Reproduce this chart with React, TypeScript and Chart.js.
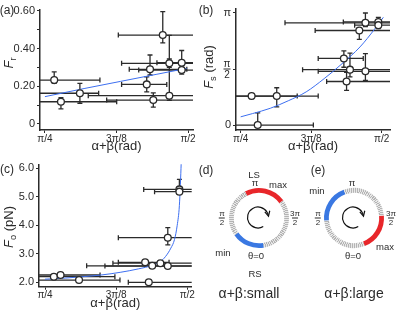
import React, { useEffect, useRef } from 'react';
import { Chart, registerables } from 'chart.js';
Chart.register(...registerables);

const FONT = "'Liberation Sans', Arial, Helvetica, sans-serif";
const INK = '#2b2b2b';
const FIT_BLUE = '#3d6ff0';
const RED = '#e8262a';
const BLUE = '#3a78e2';
Chart.defaults.font.family = FONT;
Chart.defaults.color = INK;

const PI = Math.PI;
// shared x-axis ticks
const xTickValues = [PI / 4, (3 * PI) / 8, PI / 2];
const xTickLabels = ['π/4', '3π/8', 'π/2'];

// ---- Panel (a): F_r ----
const aX = [0.836, 0.873, 0.977, 1.344, 1.362, 1.380, 1.432, 1.468, 1.468, 1.536, 1.536];
const aY = [0.233, 0.118, 0.163, 0.210, 0.290, 0.127, 0.472, 0.322, 0.150, 0.325, 0.286];
const aXLo = [0.70, 0.70, 0.70, 1.206, 1.248, 1.124, 1.188, 1.206, 1.023, 1.40, 1.30];
const aXHi = [1.087, 1.179, 1.08, 1.454, 1.564, 1.70, 1.70, 1.70, 1.70, 1.70, 1.70];
const aYLo = [0.215, 0.080, 0.110, 0.170, 0.260, 0.089, 0.430, 0.300, 0.125, 0.300, 0.265];
const aYHi = [0.277, 0.140, 0.216, 0.250, 0.366, 0.165, 0.596, 0.345, 0.470, 0.390, 0.310];
const aFitX = [0.785, 1.0, 1.2, 1.4, 1.563];
const aFitY = [0.145, 0.188, 0.226, 0.264, 0.295];
const aYTicks = [0, 0.1, 0.2, 0.3, 0.4, 0.5, 0.6];
const aYTickLabels = ['0', '', '0.20', '', '0.40', '', '0.60'];

// ---- Panel (b): F_s ----
const bX = [0.846, 0.986, 0.880, 1.360, 1.394, 1.480, 1.375, 1.446, 1.480, 1.552, 1.552];
const bY = [0.812, 0.812, 0.000, 1.866, 1.553, 1.506, 1.220, 2.650, 2.864, 2.890, 2.800];
const bXLo = [0.70, 0.70, 0.70, 1.217, 1.13, 1.217, 1.264, 1.20, 1.032, 1.357, 1.42];
const bXHi = [1.217, 1.10, 1.19, 1.468, 1.70, 1.70, 1.70, 1.70, 1.70, 1.70, 1.70];
const bYLo = [0.74, 0.507, -0.05, 1.62, 1.35, 1.25, 0.97, 2.40, 2.76, 2.82, 2.70];
const bYHi = [0.88, 1.045, 0.34, 2.08, 2.016, 2.00, 1.48, 2.72, 3.14, 3.02, 2.88];
const bFitX = [0.785, 0.85, 0.95, 1.05, 1.15, 1.25, 1.35, 1.45, 1.53, 1.58];
const bFitY = [0.23, 0.32, 0.47, 0.68, 0.93, 1.30, 1.72, 2.19, 2.68, 3.02];
const bYTicks = [0, PI / 2, PI];
const bYTickLabels = ['0', '', 'π'];

// ---- Panel (c): F_o ----
const cX = [0.834, 0.871, 0.973, 1.358, 1.338, 1.377, 1.422, 1.463, 1.463, 1.527, 1.527];
const cY = [2.196, 2.256, 2.080, 2.000, 2.700, 2.580, 2.670, 2.570, 3.565, 5.260, 5.180];
const cXLo = [0.70, 0.70, 0.70, 1.245, 1.19, 1.015, 1.16, 1.116, 1.19, 1.33, 1.39];
const cXHi = [1.171, 1.089, 1.199, 1.70, 1.47, 1.70, 1.70, 1.70, 1.70, 1.70, 1.70];
const cYLo = [2.15, 2.21, 2.04, 1.96, 2.66, 2.54, 2.63, 2.53, 3.31, 5.10, 5.10];
const cYHi = [2.24, 2.30, 2.12, 2.04, 2.74, 2.62, 2.71, 2.61, 3.92, 5.61, 5.30];
const cFitX = [0.785, 0.9, 1.0, 1.1, 1.2, 1.3, 1.38, 1.42, 1.45, 1.48, 1.5, 1.515, 1.527, 1.536, 1.542];
const cFitY = [2.11, 2.15, 2.2, 2.26, 2.35, 2.47, 2.6, 2.72, 2.9, 3.2, 3.5, 4.0, 4.7, 6.0, 7.2];
const cYTicks = [2, 3, 4, 5, 6];
const cYTickLabels = ['2.0', '3.0', '4.0', '5.0', '6.0'];

// ---- Rings (d), (e): arc spans in degrees, clockwise from start ----
const ringLabels = ['max side', 'other', 'min side', 'other'];
const dArcs = [82, 117, 64, 97];
const dRotation = -28;
const eArcs = [74, 106, 75, 105];
const eRotation = 85;

function pts(xs, ys, xl, xh, yl, yh) {
  return xs.map((x, i) => ({ x, y: ys[i], xMin: xl[i], xMax: xh[i], yMin: yl[i], yMax: yh[i] }));
}
function line(xs, ys) {
  return xs.map((x, i) => ({ x, y: ys[i] }));
}

const errorBarPlugin = {
  id: 'errorBars',
  beforeDatasetsDraw(chart) {
    const { ctx, chartArea: a } = chart;
    const xs = chart.scales.x;
    const ys = chart.scales.y;
    ctx.save();
    ctx.beginPath();
    ctx.rect(a.left, a.top - 1, a.right - a.left, a.bottom - a.top + 1);
    ctx.clip();
    ctx.strokeStyle = INK;
    ctx.lineWidth = 1.3;
    const data = chart.data.datasets[0].data;
    data.forEach((p) => {
      const px = xs.getPixelForValue(p.x);
      const py = ys.getPixelForValue(p.y);
      const x1 = xs.getPixelForValue(p.xMin);
      const x2 = xs.getPixelForValue(p.xMax);
      const y1 = ys.getPixelForValue(p.yMin);
      const y2 = ys.getPixelForValue(p.yMax);
      ctx.beginPath();
      ctx.moveTo(x1, py); ctx.lineTo(x2, py);
      ctx.moveTo(x1, py - 2.5); ctx.lineTo(x1, py + 2.5);
      ctx.moveTo(x2, py - 2.5); ctx.lineTo(x2, py + 2.5);
      ctx.moveTo(px, y1); ctx.lineTo(px, y2);
      ctx.moveTo(px - 2.5, y1); ctx.lineTo(px + 2.5, y1);
      ctx.moveTo(px - 2.5, y2); ctx.lineTo(px + 2.5, y2);
      ctx.stroke();
    });
    ctx.restore();
  },
};

const bFracPlugin = {
  id: 'bFrac',
  afterDraw(chart) {
    const { ctx, chartArea: a } = chart;
    const py = chart.scales.y.getPixelForValue(PI / 2);
    const fx = a.left - 9;
    ctx.save();
    ctx.fillStyle = INK;
    ctx.font = `10px ${FONT}`;
    ctx.textAlign = 'center';
    ctx.textBaseline = 'middle';
    ctx.fillText('π', fx, py - 5);
    ctx.fillRect(fx - 3.5, py - 0.5, 7, 1);
    ctx.fillText('2', fx, py + 6);
    ctx.restore();
  },
};

function xScale(min, max, axisH) {
  return {
    type: 'linear',
    position: 'bottom',
    min,
    max,
    afterBuildTicks: (s) => { s.ticks = xTickValues.map((v) => ({ value: v })); },
    afterFit: (s) => { s.height = axisH; },
    ticks: { callback: (_v, i) => xTickLabels[i], font: { size: 10 }, color: INK, padding: 0, maxRotation: 0, autoSkip: false },
    grid: { drawOnChartArea: false, drawTicks: true, tickLength: 3, color: INK, lineWidth: 1 },
    border: { display: true, color: INK, width: 1.5 },
    title: { display: true, text: 'α+β(rad)', font: { size: 13 }, color: INK, padding: { top: 0, bottom: 3.5 } },
  };
}

function yScale(min, max, width, tickVals, tickLabels) {
  return {
    type: 'linear',
    min,
    max,
    afterBuildTicks: (s) => { s.ticks = tickVals.map((v) => ({ value: v })); },
    afterFit: (s) => { s.width = width; },
    ticks: { callback: (_v, i) => tickLabels[i], font: { size: 11 }, color: INK, padding: 2, autoSkip: false },
    grid: { drawOnChartArea: false, drawTicks: true, tickLength: 3, color: INK, lineWidth: 1 },
    border: { display: true, color: INK, width: 1.5 },
  };
}

function scatterConfig(p) {
  return {
    type: 'scatter',
    data: {
      datasets: [
        { data: p.points, pointRadius: 3.4, pointBorderWidth: 1.3, pointBorderColor: INK, pointBackgroundColor: '#fff', order: 0 },
        { data: p.fit, showLine: true, pointRadius: 0, borderColor: FIT_BLUE, borderWidth: 1, cubicInterpolationMode: 'monotone', order: 1 },
      ],
    },
    options: {
      responsive: false,
      animation: false,
      devicePixelRatio: 1,
      layout: { padding: { top: p.padTop, right: p.padRight, left: 0, bottom: 0 } },
      plugins: { legend: { display: false }, tooltip: { enabled: false } },
      scales: { x: p.x, y: p.y },
    },
    plugins: [errorBarPlugin, ...(p.extra || [])],
  };
}

const makeA = () => scatterConfig({
  points: pts(aX, aY, aXLo, aXHi, aYLo, aYHi),
  fit: line(aFitX, aFitY),
  padTop: 10,
  padRight: 7,
  x: xScale(0.758, 1.598, 28),
  y: yScale(-0.032, 0.605, 40, aYTicks, aYTickLabels),
});

const makeB = () => scatterConfig({
  points: pts(bX, bY, bXLo, bXHi, bYLo, bYHi),
  fit: line(bFitX, bFitY),
  padTop: 7.3,
  padRight: 8,
  x: xScale(0.759, 1.617, 28),
  y: yScale(-0.139, 3.264, 36, bYTicks, bYTickLabels),
  extra: [bFracPlugin],
});

const makeC = () => scatterConfig({
  points: pts(cX, cY, cXLo, cXHi, cYLo, cYHi),
  fit: line(cFitX, cFitY),
  padTop: 9.3,
  padRight: 8.3,
  x: xScale(0.752, 1.595, 28.3),
  y: yScale(1.846, 6.14, 39, cYTicks, cYTickLabels),
});

function hatch(chart) {
  const a = chart.chartArea;
  if (!a) return '#c4c4c4';
  const cx = (a.left + a.right) / 2;
  const cy = (a.top + a.bottom) / 2;
  const g = chart.ctx.createConicGradient(0, cx, cy);
  const N = 90;
  for (let i = 0; i < N; i++) {
    g.addColorStop(i / N, '#b4b4b4');
    g.addColorStop((i + 0.5) / N, '#b4b4b4');
    g.addColorStop((i + 0.5) / N, '#e8e8e8');
    g.addColorStop((i + 1) / N, '#e8e8e8');
  }
  return g;
}

const arrowPlugin = {
  id: 'spinArrow',
  afterDraw(chart) {
    const { ctx, chartArea: a } = chart;
    const cx = (a.left + a.right) / 2 - 1;
    const cy = (a.top + a.bottom) / 2 - 0.5;
    const r = 10.5;
    const s = (60 * PI) / 180;
    const e = (346 * PI) / 180;
    ctx.save();
    ctx.strokeStyle = '#111';
    ctx.lineWidth = 1.2;
    ctx.beginPath();
    ctx.arc(cx, cy, r, s, e, false);
    ctx.stroke();
    const tx = cx + r * Math.cos(e);
    const ty = cy + r * Math.sin(e);
    const d = e + PI / 2;
    const L = 4.5;
    ctx.beginPath();
    ctx.moveTo(tx - L * Math.cos(d - 0.6), ty - L * Math.sin(d - 0.6));
    ctx.lineTo(tx + 1.2 * Math.cos(d), ty + 1.2 * Math.sin(d));
    ctx.lineTo(tx - L * Math.cos(d + 0.6), ty - L * Math.sin(d + 0.6));
    ctx.stroke();
    ctx.restore();
  },
};

function ringConfig(arcs, rotation) {
  return {
    type: 'doughnut',
    data: {
      labels: ringLabels,
      datasets: [{
        data: arcs,
        backgroundColor: (c) => (c.dataIndex === 0 ? RED : c.dataIndex === 2 ? BLUE : hatch(c.chart)),
        borderWidth: 0,
      }],
    },
    options: {
      responsive: false,
      animation: false,
      devicePixelRatio: 1,
      rotation,
      cutout: '84%',
      layout: { padding: 25 },
      plugins: { legend: { display: false }, tooltip: { enabled: false } },
    },
    plugins: [arrowPlugin],
  };
}

function ChartCanvas({ left, top, width, height, make }) {
  const ref = useRef(null);
  useEffect(() => {
    const chart = new Chart(ref.current, make());
    return () => chart.destroy();
  }, []);
  return <canvas ref={ref} width={width} height={height} style={{ position: 'absolute', left, top, width, height }} />;
}

function Txt({ x, y, size = 9.5, children, rotate = 0, style = {} }) {
  return (
    <div
      style={{
        position: 'absolute', left: x, top: y, fontSize: size, lineHeight: 1, whiteSpace: 'nowrap',
        transform: `translate(-50%,-50%)${rotate ? ` rotate(${rotate}deg)` : ''}`, ...style,
      }}
    >
      {children}
    </div>
  );
}

function Frac({ n, d }) {
  return (
    <span style={{ display: 'inline-flex', flexDirection: 'column', alignItems: 'center', lineHeight: 1 }}>
      <span>{n}</span>
      <span style={{ borderTop: `1px solid ${INK}`, padding: '0 1px' }}>{d}</span>
    </span>
  );
}

const Sub = ({ children }) => <span style={{ fontSize: '0.72em', verticalAlign: '-0.3em' }}>{children}</span>;

export default function App() {
  return (
    <div style={{ position: 'absolute', left: 0, top: 0, width: 398, height: 318, background: '#fff', fontFamily: FONT, color: INK, overflow: 'hidden' }}>
      <ChartCanvas left={0} top={0} width={200} height={158} make={makeA} />
      <ChartCanvas left={200} top={0} width={198} height={158} make={makeB} />
      <ChartCanvas left={0} top={155} width={200} height={160} make={makeC} />
      <ChartCanvas left={258.5 - 55} top={218 - 55} width={110} height={110} make={() => ringConfig(dArcs, dRotation)} />
      <ChartCanvas left={354 - 55} top={217.5 - 55} width={110} height={110} make={() => ringConfig(eArcs, eRotation)} />

      <Txt x={7} y={10} size={12}>(a)</Txt>
      <Txt x={206} y={10} size={12}>(b)</Txt>
      <Txt x={7} y={169} size={12}>(c)</Txt>
      <Txt x={206} y={170} size={12}>(d)</Txt>
      <Txt x={318} y={170} size={12}>(e)</Txt>

      <Txt x={10} y={63} size={13} rotate={-90}><i>F</i><Sub>r</Sub></Txt>
      <Txt x={210} y={67} size={13} rotate={-90}><i>F</i><Sub>s</Sub> (rad)</Txt>
      <Txt x={10} y={227} size={13} rotate={-90}><i>F</i><Sub>o</Sub> (pN)</Txt>

      <Txt x={254} y={175}>LS</Txt>
      <Txt x={255} y={183}>π</Txt>
      <Txt x={278} y={184.5}>max</Txt>
      <Txt x={222} y={217.5} size={8}><Frac n="π" d="2" /></Txt>
      <Txt x={295} y={217.5} size={8}><Frac n="3π" d="2" /></Txt>
      <Txt x={223} y={253}>min</Txt>
      <Txt x={256} y={255.5}>θ=0</Txt>
      <Txt x={255} y={273.5}>RS</Txt>
      <Txt x={249} y={292.5} size={14}>α+β:small</Txt>

      <Txt x={352} y={183}>π</Txt>
      <Txt x={317} y={190.5}>min</Txt>
      <Txt x={318} y={217.5} size={8}><Frac n="π" d="2" /></Txt>
      <Txt x={391} y={217.5} size={8}><Frac n="3π" d="2" /></Txt>
      <Txt x={385} y={247}>max</Txt>
      <Txt x={353} y={255.5}>θ=0</Txt>
      <Txt x={354} y={292.5} size={14}>α+β:large</Txt>
    </div>
  );
}
